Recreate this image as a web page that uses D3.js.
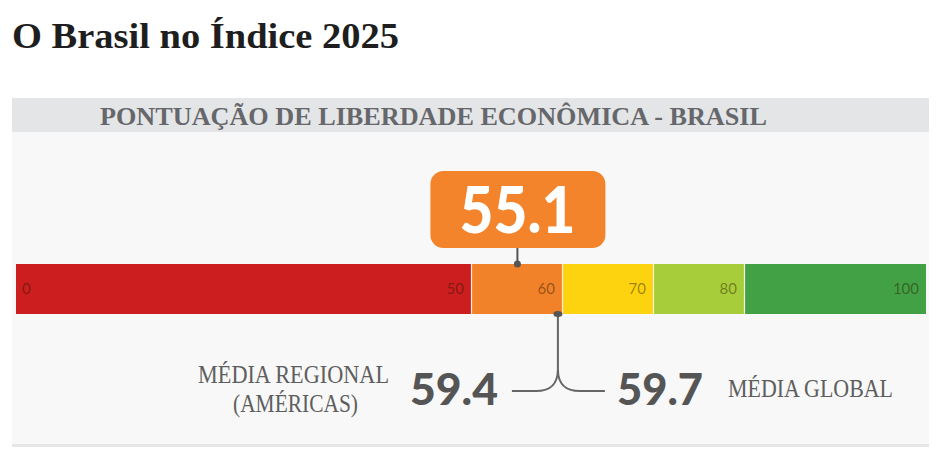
<!DOCTYPE html>
<html>
<head>
<meta charset="utf-8">
<title>O Brasil no Índice 2025</title>
<style>
  body, html { margin: 0; padding: 0; background: #fff; }
  .title { font-family: "Liberation Serif", serif; font-weight: bold; fill: #1e1e1e; }
  .head { font-family: "Liberation Serif", serif; font-weight: bold; fill: #65676b; }
  .tick { font-family: "Lato", sans-serif; font-size: 15px; }
  .big { font-family: "Lato", "Inter", sans-serif; font-weight: 900; }
  .note { font-family: "Liberation Serif", serif; fill: #5e5e5e; }
</style>
</head>
<body>
<svg id="svg" width="941" height="456"></svg>
<script src="https://cdn.jsdelivr.net/npm/d3@7"></script>
<script>
// band edges of the score bar and their colours
const bandEdges = [0, 50, 60, 70, 80, 100]
const bandColors = ['#cc1e1e', '#f2822a', '#fdd30f', '#a7ce3a', '#43a145']
const tickLabels = ['0', '50', '60', '70', '80', '100']

const brazilScore = 55.1
const regionalAvg = 59.4
const globalAvg = 59.7

const svg = d3.select('#svg')

// scale for the bar
const x = d3.scaleLinear().domain([0, 100]).range([16, 926])
const barTop = 264, barH = 50

// title
svg.append('text').attr('class', 'title')
  .attr('x', 12).attr('y', 48)
  .style('font-size', '36px')
  .attr('textLength', 387).attr('lengthAdjust', 'spacingAndGlyphs')
  .text('O Brasil no Índice 2025')

// panel background and header band
svg.append('rect').attr('x', 12).attr('y', 132).attr('width', 917).attr('height', 312).attr('fill', '#f8f8f8')
svg.append('rect').attr('x', 12).attr('y', 444).attr('width', 917).attr('height', 3).attr('fill', '#e6e6e6')
svg.append('rect').attr('x', 12).attr('y', 98).attr('width', 917).attr('height', 34).attr('fill', '#e4e5e7')

svg.append('text').attr('class', 'head')
  .attr('x', 100).attr('y', 125)
  .style('font-size', '26px')
  .attr('textLength', 667).attr('lengthAdjust', 'spacingAndGlyphs')
  .text('PONTUAÇÃO DE LIBERDADE ECONÔMICA - BRASIL')

// bar segments
const segs = d3.pairs(bandEdges).map((p, i) => ({ from: p[0], to: p[1], color: bandColors[i] }))

svg.selectAll('.seg')
  .data(segs)
  .enter().append('rect')
  .attr('class', 'seg')
  .attr('x', d => x(d.from))
  .attr('y', barTop)
  .attr('width', d => x(d.to) - x(d.from))
  .attr('height', barH)
  .attr('fill', d => d.color)

// thin light separators between segments
svg.selectAll('.sep')
  .data(bandEdges.slice(1, -1))
  .enter().append('line')
  .attr('x1', d => x(d) + 0.5).attr('x2', d => x(d) + 0.5)
  .attr('y1', barTop).attr('y2', barTop + barH)
  .attr('stroke', '#f6efe0').attr('stroke-width', 1.2)

// tick labels inside the bar
svg.selectAll('.tick')
  .data(bandEdges)
  .enter().append('text')
  .attr('class', 'tick')
  .attr('x', (d, i) => i === 0 ? x(d) + 6 : x(d) - 7)
  .attr('y', barTop + barH / 2 + 5)
  .attr('text-anchor', (d, i) => i === 0 ? 'start' : 'end')
  .attr('fill', 'rgba(40,20,0,0.45)')
  .text((d, i) => tickLabels[i])

// callout for Brazil
const bx = x(brazilScore)
svg.append('line')
  .attr('x1', bx).attr('x2', bx).attr('y1', 246).attr('y2', barTop)
  .attr('stroke', '#555').attr('stroke-width', 2)
svg.append('circle').attr('cx', bx).attr('cy', barTop).attr('r', 3.5).attr('fill', '#555')

svg.append('rect')
  .attr('x', bx - 87).attr('y', 171).attr('width', 175).attr('height', 77)
  .attr('rx', 13).attr('fill', '#f3842b')
svg.append('text').attr('class', 'big')
  .attr('x', bx).attr('y', 233)
  .attr('text-anchor', 'middle')
  .attr('fill', '#fff')
  .style('font-size', '64px')
  .attr('textLength', 116).attr('lengthAdjust', 'spacingAndGlyphs')
  .text(d3.format('.1f')(brazilScore))

// averages connector
const mx = x((regionalAvg + globalAvg) / 2)
const ly = 391
const conn = d3.path()
conn.moveTo(mx, barTop + barH)
conn.lineTo(mx, ly - 22)
conn.bezierCurveTo(mx, ly - 4, mx - 10, ly, mx - 22, ly)
conn.lineTo(mx - 46, ly)
conn.moveTo(mx, ly - 22)
conn.bezierCurveTo(mx, ly - 4, mx + 10, ly, mx + 22, ly)
conn.lineTo(mx + 47, ly)
svg.append('path').attr('d', conn.toString())
  .attr('fill', 'none').attr('stroke', '#666').attr('stroke-width', 2)
svg.append('ellipse').attr('cx', mx).attr('cy', barTop + barH).attr('rx', 4.5).attr('ry', 3).attr('fill', '#555')

svg.append('text').attr('class', 'big')
  .attr('x', 410).attr('y', 405)
  .attr('fill', '#555')
  .style('font-size', '44px')
  .attr('textLength', 88).attr('lengthAdjust', 'spacingAndGlyphs')
  .text(d3.format('.1f')(regionalAvg))
svg.append('text').attr('class', 'big')
  .attr('x', 617).attr('y', 405)
  .attr('fill', '#555')
  .style('font-size', '44px')
  .attr('textLength', 86).attr('lengthAdjust', 'spacingAndGlyphs')
  .text(d3.format('.1f')(globalAvg))

svg.append('text').attr('class', 'note')
  .attr('x', 198).attr('y', 383).style('font-size', '25px')
  .attr('textLength', 191).attr('lengthAdjust', 'spacingAndGlyphs')
  .text('MÉDIA REGIONAL')
svg.append('text').attr('class', 'note')
  .attr('x', 233).attr('y', 412).style('font-size', '25px')
  .attr('textLength', 125).attr('lengthAdjust', 'spacingAndGlyphs')
  .text('(AMÉRICAS)')
svg.append('text').attr('class', 'note')
  .attr('x', 728).attr('y', 397).style('font-size', '25px')
  .attr('textLength', 165).attr('lengthAdjust', 'spacingAndGlyphs')
  .text('MÉDIA GLOBAL')
</script>
</body>
</html>
